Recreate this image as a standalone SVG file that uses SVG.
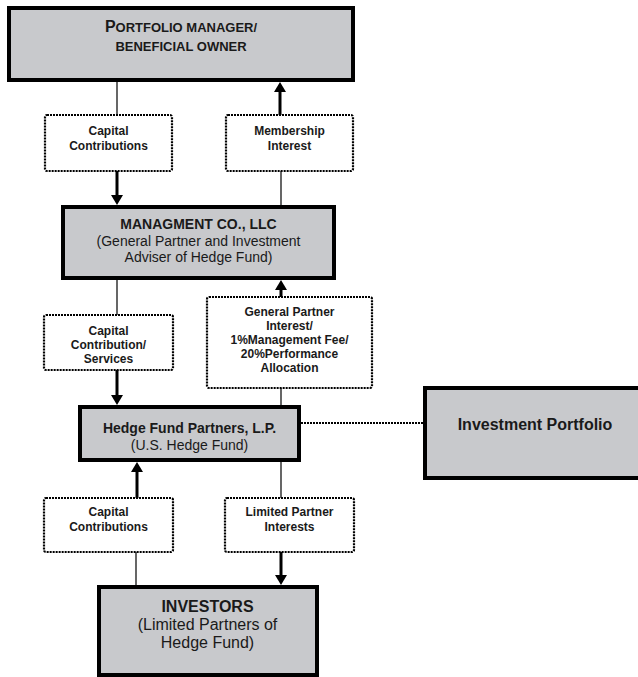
<svg xmlns="http://www.w3.org/2000/svg" width="638" height="677" viewBox="0 0 638 677">
<style>
.box{fill:#c8c9cc;stroke:#000;stroke-width:4}
.dbox{fill:#fff;stroke:#000;stroke-width:2.2;stroke-dasharray:2 1}
.t{font-family:"Liberation Sans",Arial,sans-serif;fill:#1a1a1a;text-anchor:middle}
.b{font-weight:bold}
.s12{font-size:12px}
.s14{font-size:14px}
.s16{font-size:16px}
.thin{stroke:#000;stroke-width:1.2;fill:none}
.thick{stroke:#000;stroke-width:3;fill:none}
.dot{stroke:#000;stroke-width:2.2;stroke-dasharray:2 1;fill:none}
</style>
<defs>
<marker id="ah" viewBox="0 0 10 12" refX="2" refY="6" markerWidth="10" markerHeight="12" markerUnits="userSpaceOnUse" orient="auto">
<path d="M0,0 L10,6 L0,12 z" fill="#000"/>
</marker>
</defs>
<rect width="638" height="677" fill="#fff"/>
<g id="connectors">
<line class="thin" x1="117" y1="82" x2="117" y2="115"/>
<line class="thick" x1="117" y1="171" x2="117" y2="197" marker-end="url(#ah)"/>
<line class="thin" x1="281" y1="171" x2="281" y2="205"/>
<line class="thick" x1="280" y1="115" x2="280" y2="90" marker-end="url(#ah)"/>
<line class="thin" x1="117" y1="280" x2="117" y2="315"/>
<line class="thick" x1="117" y1="370" x2="117" y2="397" marker-end="url(#ah)"/>
<line class="thin" x1="281" y1="388" x2="281" y2="405"/>
<line class="thick" x1="281" y1="297" x2="281" y2="288" marker-end="url(#ah)"/>
<line class="dot" x1="301" y1="423" x2="423" y2="423"/>
<line class="thick" x1="137" y1="498" x2="137" y2="470" marker-end="url(#ah)"/>
<line class="thin" x1="136" y1="552" x2="136" y2="586"/>
<line class="thin" x1="281" y1="462" x2="281" y2="498"/>
<line class="thick" x1="281" y1="552" x2="281" y2="577" marker-end="url(#ah)"/>
</g>
<g id="portfolio-manager">
<rect class="box" x="9" y="8" width="344" height="72"/>
<text class="t b" x="181" y="32"><tspan font-size="16">P</tspan><tspan font-size="13">ORTFOLIO MANAGER/</tspan></text>
<text class="t b" x="181" y="51" font-size="13">BENEFICIAL OWNER</text>
</g>
<g id="capital-contributions-1">
<rect class="dbox" x="45" y="115" width="127" height="56" rx="2"/>
<text class="t b s12" x="108.5" y="135">Capital</text>
<text class="t b s12" x="108.5" y="149.5">Contributions</text>
</g>
<g id="membership-interest">
<rect class="dbox" x="226" y="115" width="127" height="56" rx="2"/>
<text class="t b s12" x="289.5" y="135">Membership</text>
<text class="t b s12" x="289.5" y="149.5">Interest</text>
</g>
<g id="management-co">
<rect class="box" x="63" y="207" width="271" height="71"/>
<text class="t b s14" x="198.5" y="229">MANAGMENT CO., LLC</text>
<text class="t s14" x="198.5" y="246">(General Partner and Investment</text>
<text class="t s14" x="198.5" y="262">Adviser of Hedge Fund)</text>
</g>
<g id="capital-contribution-services">
<rect class="dbox" x="44" y="315" width="129" height="55" rx="2"/>
<text class="t b s12" x="108.5" y="335">Capital</text>
<text class="t b s12" x="108.5" y="349">Contribution/</text>
<text class="t b s12" x="108.5" y="362.5">Services</text>
</g>
<g id="general-partner-interest">
<rect class="dbox" x="207" y="297" width="165" height="91" rx="2"/>
<text class="t b s12" x="289.5" y="316">General Partner</text>
<text class="t b s12" x="289.5" y="330">Interest/</text>
<text class="t b s12" x="289.5" y="344">1%Management Fee/</text>
<text class="t b s12" x="289.5" y="358">20%Performance</text>
<text class="t b s12" x="289.5" y="372">Allocation</text>
</g>
<g id="hedge-fund">
<rect class="box" x="80" y="407" width="219" height="53"/>
<text class="t b s14" x="189.5" y="433">Hedge Fund Partners, L.P.</text>
<text class="t s14" x="189.5" y="450">(U.S. Hedge Fund)</text>
</g>
<g id="investment-portfolio">
<rect class="box" x="425" y="388" width="222" height="90"/>
<text class="t b s16" x="535" y="430">Investment Portfolio</text>
</g>
<g id="capital-contributions-2">
<rect class="dbox" x="44" y="498" width="129" height="54" rx="2"/>
<text class="t b s12" x="108.5" y="516">Capital</text>
<text class="t b s12" x="108.5" y="530.5">Contributions</text>
</g>
<g id="limited-partner-interests">
<rect class="dbox" x="225" y="498" width="129" height="54" rx="2"/>
<text class="t b s12" x="289.5" y="516">Limited Partner</text>
<text class="t b s12" x="289.5" y="530.5">Interests</text>
</g>
<g id="investors">
<rect class="box" x="99" y="587" width="218" height="88"/>
<text class="t b s16" x="207.5" y="612">INVESTORS</text>
<text class="t s16" x="207.5" y="630">(Limited Partners of</text>
<text class="t s16" x="207.5" y="648">Hedge Fund)</text>
</g>
</svg>
